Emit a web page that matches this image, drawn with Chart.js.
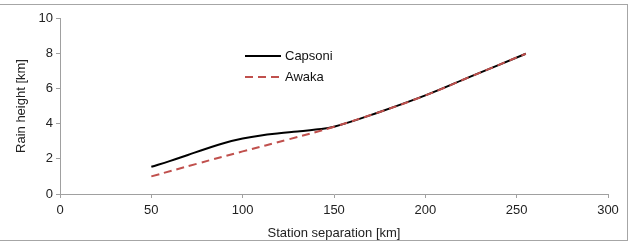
<!DOCTYPE html>
<html><head><meta charset="utf-8">
<script src="https://cdn.jsdelivr.net/npm/chart.js@4/dist/chart.umd.min.js"></script>
<style>
html,body{margin:0;padding:0;background:#fff;}
#wrap{position:relative;width:632px;height:244px;overflow:hidden;font-family:"Liberation Sans",Arial,sans-serif;}
#frame{position:absolute;left:-2px;top:4px;width:630px;height:237px;border:1px solid #a6a6a6;box-sizing:border-box;pointer-events:none;}
canvas{position:absolute;left:0;top:0;}
.leg{position:absolute;left:245px;height:16px;font-size:13px;color:#111;line-height:16px;}
.leg svg{position:absolute;left:0;top:0;}
.leg span{position:absolute;left:40px;top:0;white-space:nowrap;}
</style></head>
<body>
<div id="wrap">
<canvas id="c" width="632" height="244"></canvas>
<div id="frame"></div>
<div class="leg" style="top:48px"><svg width="38" height="16"><line x1="0" y1="8" x2="36" y2="8" stroke="#000" stroke-width="2"/></svg><span>Capsoni</span></div>
<div class="leg" style="top:69px"><svg width="38" height="16"><line x1="0" y1="8" x2="37" y2="8" stroke="#c0504d" stroke-width="2" stroke-dasharray="8,5"/></svg><span>Awaka</span></div>
</div>
<script>
const capsoniX = [50, 60, 70, 80, 90, 100, 110, 120, 130, 140, 150, 175, 200, 225, 255];
const capsoniY = [1.55, 1.87, 2.22, 2.57, 2.9, 3.15, 3.33, 3.45, 3.55, 3.66, 3.82, 4.66, 5.6, 6.68, 7.97];
const awakaX = [50, 75, 100, 125, 150, 175, 200, 225, 255];
const awakaY = [1.0, 1.72, 2.42, 3.1, 3.82, 4.66, 5.6, 6.68, 7.97];
const xTicks = [0, 50, 100, 150, 200, 250, 300];
const yTicks = [0, 2, 4, 6, 8, 10];

const toPts = (xs, ys) => xs.map((x, i) => ({x, y: ys[i]}));
const axisGray = '#a0a0a0';
const font = {family: '"Liberation Sans", Arial, sans-serif', size: 13};

new Chart(document.getElementById('c'), {
  type: 'line',
  data: {
    datasets: [
      {label: 'Capsoni', data: toPts(capsoniX, capsoniY), borderColor: '#000', borderWidth: 2, pointRadius: 0, tension: 0.4, order: 2},
      {label: 'Awaka', data: toPts(awakaX, awakaY), borderColor: '#c0504d', borderWidth: 2, borderDash: [8, 5], pointRadius: 0, tension: 0.4, order: 1}
    ]
  },
  options: {
    responsive: false, animation: false, devicePixelRatio: 1,
    layout: {padding: {left: 0, top: 18, right: 24, bottom: 0}},
    plugins: {legend: {display: false}, tooltip: {enabled: false}},
    scales: {
      x: {
        type: 'linear', min: 0, max: 300,
        afterBuildTicks: s => { s.ticks = xTicks.map(v => ({value: v})); },
        afterFit: s => { s.height = 50; },
        border: {color: axisGray, width: 1},
        grid: {drawOnChartArea: false, drawTicks: true, tickLength: 4, color: axisGray},
        ticks: {font, color: '#222', padding: 5, maxRotation: 0},
        title: {display: true, text: 'Station separation [km]', font, color: '#222', padding: {top: 4, bottom: 3}}
      },
      y: {
        type: 'linear', min: 0, max: 10,
        afterBuildTicks: s => { s.ticks = yTicks.map(v => ({value: v})); },
        afterFit: s => { s.width = 60; },
        border: {color: axisGray, width: 1},
        grid: {drawOnChartArea: false, drawTicks: true, tickLength: 4, color: axisGray},
        ticks: {font, color: '#222', padding: 3},
        title: {display: true, text: 'Rain height [km]', font, color: '#222', padding: {top: 14, bottom: 4}}
      }
    }
  }
});
</script>
</body></html>
